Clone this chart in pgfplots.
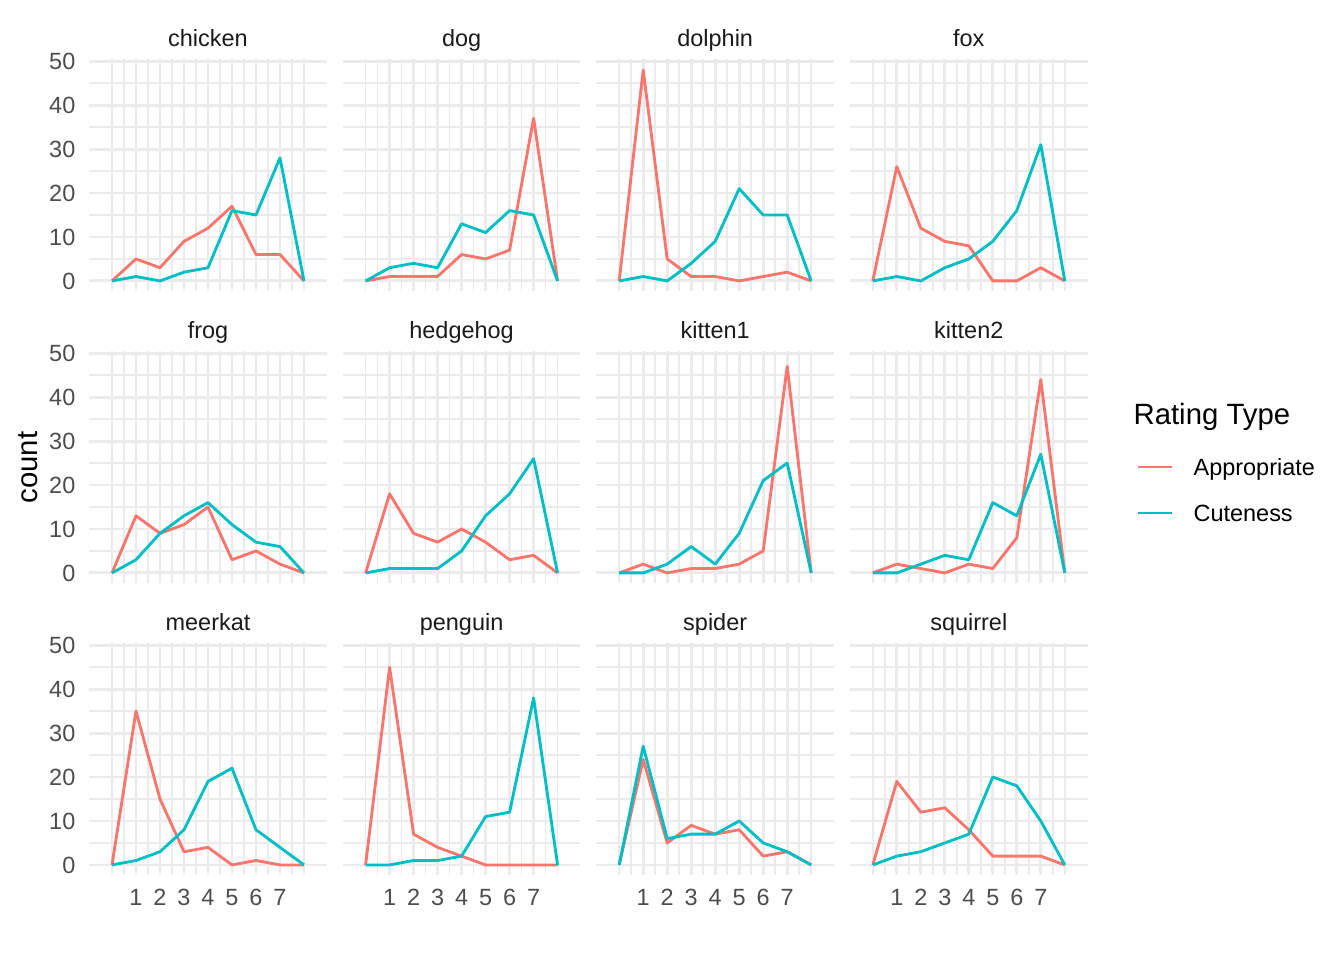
\documentclass[border=0pt]{standalone}
\usepackage{pgfplots}
\usepackage{pgfplotstable}
\pgfplotsset{compat=1.18}
\usepackage{fontspec}
\setmainfont{Liberation Sans}

\definecolor{appr}{HTML}{F8766D}
\definecolor{cute}{HTML}{00BFC4}
\definecolor{gridcol}{HTML}{EBEBEB}
\definecolor{ticktext}{HTML}{4D4D4D}
\definecolor{striptext}{HTML}{1A1A1A}

% rating (0-8), count of Appropriate, count of Cuteness
\pgfplotstableread{
x app cute
0 0 0
1 5 1
2 3 0
3 9 2
4 12 3
5 17 16
6 6 15
7 6 28
8 0 0
}\chicken
\pgfplotstableread{
x app cute
0 0 0
1 1 3
2 1 4
3 1 3
4 6 13
5 5 11
6 7 16
7 37 15
8 0 0
}\dog
\pgfplotstableread{
x app cute
0 0 0
1 48 1
2 5 0
3 1 4
4 1 9
5 0 21
6 1 15
7 2 15
8 0 0
}\dolphin
\pgfplotstableread{
x app cute
0 0 0
1 26 1
2 12 0
3 9 3
4 8 5
5 0 9
6 0 16
7 3 31
8 0 0
}\fox
\pgfplotstableread{
x app cute
0 0 0
1 13 3
2 9 9
3 11 13
4 15 16
5 3 11
6 5 7
7 2 6
8 0 0
}\frog
\pgfplotstableread{
x app cute
0 0 0
1 18 1
2 9 1
3 7 1
4 10 5
5 7 13
6 3 18
7 4 26
8 0 0
}\hedgehog
\pgfplotstableread{
x app cute
0 0 0
1 2 0
2 0 2
3 1 6
4 1 2
5 2 9
6 5 21
7 47 25
8 0 0
}\kittenA
\pgfplotstableread{
x app cute
0 0 0
1 2 0
2 1 2
3 0 4
4 2 3
5 1 16
6 8 13
7 44 27
8 0 0
}\kittenB
\pgfplotstableread{
x app cute
0 0 0
1 35 1
2 15 3
3 3 8
4 4 19
5 0 22
6 1 8
7 0 4
8 0 0
}\meerkat
\pgfplotstableread{
x app cute
0 0 0
1 45 0
2 7 1
3 4 1
4 2 2
5 0 11
6 0 12
7 0 38
8 0 0
}\penguin
\pgfplotstableread{
x app cute
0 0 0
1 24 27
2 5 6
3 9 7
4 7 7
5 8 10
6 2 5
7 3 3
8 0 0
}\spider
\pgfplotstableread{
x app cute
0 0 0
1 19 2
2 12 3
3 13 5
4 8 7
5 2 20
6 2 18
7 2 10
8 0 0
}\squirrel

\pgfplotsset{
  facet/.style={
    scale only axis, width=89.1pt, height=87pt, anchor=south west,
    xmin=-0.95, xmax=8.95, ymin=-2.4, ymax=50.4,
    xtick={1,...,7},
    minor xtick={0,0.5,1.5,2.5,3.5,4.5,5.5,6.5,7.5,8},
    ytick={0,10,...,50}, minor ytick={5,15,...,45},
    grid=both,
    major grid style={draw=gridcol, line width=1.07pt},
    minor grid style={draw=gridcol, line width=0.53pt},
    axis line style={draw=none},
    major tick length=0pt, minor tick length=0pt,
    /pgf/number format/assume math mode=true,
    tick label style={font=\fontsize{8.8}{10}\selectfont, text=ticktext, inner sep=0pt},
    yticklabel style={anchor=east, xshift=-5pt},
    xticklabel style={anchor=north, yshift=-5pt},
    xticklabels={}, yticklabels={},
    title style={at={(0.5,1)}, anchor=base, yshift=-1.1pt,
      font=\fontsize{8.8}{10}\selectfont, text=striptext, inner sep=0pt},
  },
  firstcol/.style={yticklabels={0,10,20,30,40,50}},
  lastrow/.style={xticklabels={1,2,3,4,5,6,7}},
  app/.style={draw=appr, line width=1.07pt, line join=round, mark=none},
  cute/.style={draw=cute, line width=1.07pt, line join=round, mark=none},
}

\newcommand{\facet}[5]{%
  \begin{axis}[facet, at={(#1)}, title={#3}, #5]
    \addplot[app] table[x=x, y=app] {#4};
    \addplot[cute] table[x=x, y=cute] {#4};
  \end{axis}}

\begin{document}
\begin{tikzpicture}
\useasboundingbox (0,0) rectangle (504pt,360pt);

\facet{33.45pt,250.7pt}{}{chicken}{\chicken}{firstcol}
\facet{128.55pt,250.7pt}{}{dog}{\dog}{}
\facet{223.65pt,250.7pt}{}{dolphin}{\dolphin}{}
\facet{318.75pt,250.7pt}{}{fox}{\fox}{}

\facet{33.45pt,141.2pt}{}{frog}{\frog}{firstcol}
\facet{128.55pt,141.2pt}{}{hedgehog}{\hedgehog}{}
\facet{223.65pt,141.2pt}{}{kitten1}{\kittenA}{}
\facet{318.75pt,141.2pt}{}{kitten2}{\kittenB}{}

\facet{33.45pt,31.7pt}{}{meerkat}{\meerkat}{firstcol,lastrow}
\facet{128.55pt,31.7pt}{}{penguin}{\penguin}{lastrow}
\facet{223.65pt,31.7pt}{}{spider}{\spider}{lastrow}
\facet{318.75pt,31.7pt}{}{squirrel}{\squirrel}{lastrow}

% y axis title
\node[rotate=90, anchor=base, inner sep=0pt, font=\fontsize{11}{13}\selectfont, text=black]
  at (13.9pt,184.65pt) {count};

% legend
\node[anchor=base west, inner sep=0pt, font=\fontsize{11}{13}\selectfont, text=black]
  at (424.9pt,201pt) {Rating Type};
\draw[appr, line width=1.07pt] (426.75pt,184.9pt) -- (439.5pt,184.9pt);
\draw[cute, line width=1.07pt] (426.75pt,167.6pt) -- (439.5pt,167.6pt);
\node[anchor=base west, inner sep=0pt, font=\fontsize{8.8}{10}\selectfont, text=black]
  at (447.4pt,181.75pt) {Appropriate};
\node[anchor=base west, inner sep=0pt, font=\fontsize{8.8}{10}\selectfont, text=black]
  at (447.4pt,164.45pt) {Cuteness};
\end{tikzpicture}
\end{document}
